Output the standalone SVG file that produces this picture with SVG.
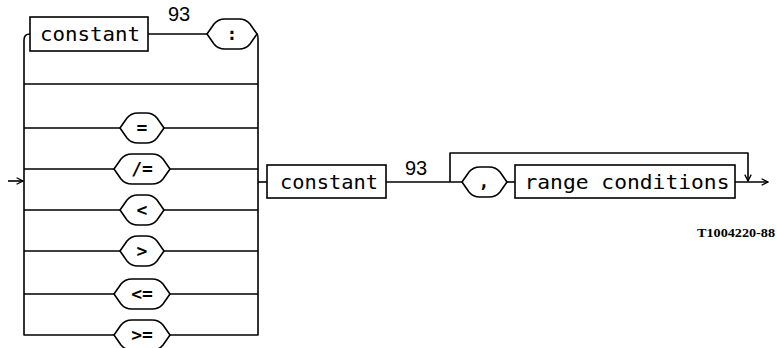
<svg xmlns="http://www.w3.org/2000/svg" width="777" height="348" viewBox="0 0 777 348">
<style>
.ln{fill:none;stroke:#000;stroke-width:1.6;stroke-linejoin:round}
.bx{fill:#fff;stroke:#000;stroke-width:1.6}
.ov{fill:#fff;stroke:#000;stroke-width:1.6;stroke-linejoin:round}
.t{font-family:"DejaVu Sans Mono","Liberation Mono",monospace;font-size:19px;fill:#000;text-anchor:middle}
.o{font-family:"DejaVu Sans Mono","Liberation Mono",monospace;font-size:18px;font-weight:bold;fill:#000;text-anchor:middle}
.n{font-family:"Liberation Sans",Arial,sans-serif;font-size:20px;fill:#000}
.id{font-family:"Liberation Serif","Times New Roman",serif;font-size:12px;font-weight:bold;fill:#000}
</style>
<defs>
<marker id="ah" viewBox="0 0 10 10" refX="9" refY="5" markerWidth="8" markerHeight="8" markerUnits="userSpaceOnUse" orient="auto">
<path d="M1,1 L9,5 L1,9" fill="none" stroke="#000" stroke-width="1.6"/>
</marker>
</defs>
<g id="connectors">
<path class="ln" d="M8,181 H23" marker-end="url(#ah)"/>
<path class="ln" d="M30,34 Q24,34 24,40 V335 H114"/>
<path class="ln" d="M148,34 H207"/>
<path class="ln" d="M257,34 Q258,34 258,40 V335 H170"/>
<path class="ln" d="M24,84 H258"/>
<path class="ln" d="M24,128 H120 M164,128 H258"/>
<path class="ln" d="M24,169 H114 M170,169 H258"/>
<path class="ln" d="M24,210 H120 M164,210 H258"/>
<path class="ln" d="M24,251 H120 M164,251 H258"/>
<path class="ln" d="M24,294 H114 M170,294 H258"/>
<path class="ln" d="M258,182 H267"/>
<path class="ln" d="M386,182 H462"/>
<path class="ln" d="M507,182 H515"/>
<path class="ln" d="M450,182 V153 H748 V181" marker-end="url(#ah)"/>
<path class="ln" d="M735,182 H768" marker-end="url(#ah)"/>
</g>
<g id="label93a"><text class="n" x="168" y="21">93</text></g>
<g id="label93b"><text class="n" x="405" y="175">93</text></g>
<g id="constant1"><rect class="bx" x="30" y="17" width="118" height="34"/><text class="t" x="90" y="41" textLength="100" lengthAdjust="spacingAndGlyphs">constant</text></g>
<g id="colon"><path class="ov" d="M207,34 L214,24 Q218,19 225,19 L239,19 Q246,19 250,24 L257,34 L250,44 Q246,49 239,49 L225,49 Q218,49 214,44 Z"/><text class="o" x="232" y="40">:</text></g>
<g id="eq"><path class="ov" d="M120,128 L127,118 Q131,113 138,113 L146,113 Q153,113 157,118 L164,128 L157,138 Q153,143 146,143 L138,143 Q131,143 127,138 Z"/><text class="o" x="142" y="134">=</text></g>
<g id="neq"><path class="ov" d="M114,169 L121,159 Q125,154 132,154 L152,154 Q159,154 163,159 L170,169 L163,179 Q159,184 152,184 L132,184 Q125,184 121,179 Z"/><text class="o" x="142" y="175">/=</text></g>
<g id="lt"><path class="ov" d="M120,210 L127,200 Q131,195 138,195 L146,195 Q153,195 157,200 L164,210 L157,220 Q153,225 146,225 L138,225 Q131,225 127,220 Z"/><text class="o" x="142" y="216">&lt;</text></g>
<g id="gt"><path class="ov" d="M120,251 L127,241 Q131,236 138,236 L146,236 Q153,236 157,241 L164,251 L157,261 Q153,266 146,266 L138,266 Q131,266 127,261 Z"/><text class="o" x="142" y="257">&gt;</text></g>
<g id="le"><path class="ov" d="M114,294 L121,284 Q125,279 132,279 L152,279 Q159,279 163,284 L170,294 L163,304 Q159,309 152,309 L132,309 Q125,309 121,304 Z"/><text class="o" x="142" y="300">&lt;=</text></g>
<g id="ge"><path class="ov" d="M114,335 L121,325 Q125,320 132,320 L152,320 Q159,320 163,325 L170,335 L163,345 Q159,350 152,350 L132,350 Q125,350 121,345 Z"/><text class="o" x="142" y="341">&gt;=</text></g>
<g id="constant2"><rect class="bx" x="267" y="165" width="119" height="33"/><text class="t" x="329" y="189" textLength="98" lengthAdjust="spacingAndGlyphs">constant</text></g>
<g id="comma"><path class="ov" d="M462,182 L469,172 Q473,167 480,167 L489,167 Q496,167 500,172 L507,182 L500,192 Q496,197 489,197 L480,197 Q473,197 469,192 Z"/><text class="o" x="484" y="188">,</text></g>
<g id="rangeconditions"><rect class="bx" x="515" y="165" width="220" height="33"/><text class="t" x="627" y="189" textLength="205" lengthAdjust="spacingAndGlyphs">range conditions</text></g>
<g id="figid"><text class="id" x="697" y="237" textLength="78" lengthAdjust="spacingAndGlyphs">T1004220-88</text></g>
</svg>
